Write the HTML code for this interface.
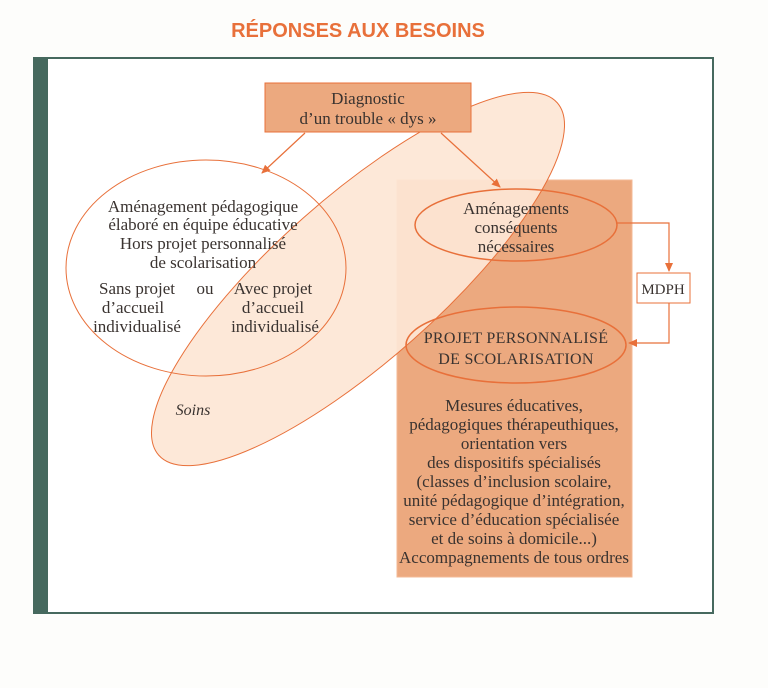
<!DOCTYPE html>
<html><head><meta charset="utf-8"><style>
body{margin:0;background:#fdfdfb;}
svg{display:block}
text{font-family:"Liberation Serif",serif;fill:#3a3330;font-size:17px;text-anchor:middle}
</style></head><body>
<svg width="768" height="688" viewBox="0 0 768 688">
<defs><marker id="a" markerWidth="10" markerHeight="10" refX="8" refY="5" orient="auto" markerUnits="userSpaceOnUse"><path d="M0,1 L9,5 L0,9 z" fill="#e8703a"/></marker></defs>
<text x="358" y="37" style="font-family:'Liberation Sans',sans-serif;font-weight:bold;font-size:20px;fill:#e8703a">RÉPONSES AUX BESOINS</text>
<rect x="34" y="58" width="679" height="555" fill="#fff" stroke="#46695e" stroke-width="2"/>
<rect x="34" y="58" width="14" height="555" fill="#46695e"/>
<rect x="397" y="180" width="235" height="397" fill="#eca97f" stroke="#f3b995" stroke-width="1"/>
<ellipse cx="358" cy="279" rx="266" ry="82" transform="rotate(-41.5 358 279)" fill="#fde6d5" fill-opacity="0.93" stroke="#e8703a" stroke-width="1"/>
<rect x="265" y="83" width="206" height="49" fill="#eca97f" stroke="#e8703a" stroke-width="1"/>
<text x="368" y="104">Diagnostic</text>
<text x="368" y="124">d’un trouble « dys »</text>
<line x1="305" y1="133" x2="262" y2="173" stroke="#e8703a" stroke-width="1.2" marker-end="url(#a)"/>
<line x1="441" y1="133" x2="500" y2="187" stroke="#e8703a" stroke-width="1.2" marker-end="url(#a)"/>
<ellipse cx="206" cy="268" rx="140" ry="108" fill="none" stroke="#e8703a" stroke-width="1"/>
<text x="203" y="212">Aménagement pédagogique</text>
<text x="203" y="230">élaboré en équipe éducative</text>
<text x="203" y="249">Hors projet personnalisé</text>
<text x="203" y="268">de scolarisation</text>
<text x="137" y="294">Sans projet</text><text x="205" y="294">ou</text><text x="273" y="294">Avec projet</text>
<text x="133" y="313">d’accueil</text><text x="273" y="313">d’accueil</text>
<text x="137" y="332">individualisé</text><text x="275" y="332">individualisé</text>
<text x="193" y="415" style="font-style:italic;font-size:16px">Soins</text>
<ellipse cx="516" cy="225" rx="101" ry="36" fill="none" stroke="#e8703a" stroke-width="1.5"/>
<text x="516" y="214">Aménagements</text>
<text x="516" y="233">conséquents</text>
<text x="516" y="252">nécessaires</text>
<ellipse cx="516" cy="345" rx="110" ry="38" fill="none" stroke="#e8703a" stroke-width="1.5"/>
<text x="516" y="343" style="letter-spacing:0.3px;font-size:16px">PROJET PERSONNALISÉ</text>
<text x="516" y="364" style="letter-spacing:0.3px;font-size:16px">DE SCOLARISATION</text>
<polyline points="616,223 669,223 669,271" fill="none" stroke="#e8703a" stroke-width="1.2" marker-end="url(#a)"/>
<rect x="637" y="273" width="53" height="30" fill="#fff" stroke="#e8703a" stroke-width="1"/>
<text x="663" y="294" style="font-size:15px">MDPH</text>
<polyline points="669,303 669,343 629,343" fill="none" stroke="#e8703a" stroke-width="1.2" marker-end="url(#a)"/>
<g style="font-size:16px">
<text x="514" y="411">Mesures éducatives,</text>
<text x="514" y="430">pédagogiques thérapeuthiques,</text>
<text x="514" y="449">orientation vers</text>
<text x="514" y="468">des dispositifs spécialisés</text>
<text x="514" y="487">(classes d’inclusion scolaire,</text>
<text x="514" y="506">unité pédagogique d’intégration,</text>
<text x="514" y="525">service d’éducation spécialisée</text>
<text x="514" y="544">et de soins à domicile...)</text>
<text x="514" y="563">Accompagnements de tous ordres</text>
</g>
</svg>
</body></html>
